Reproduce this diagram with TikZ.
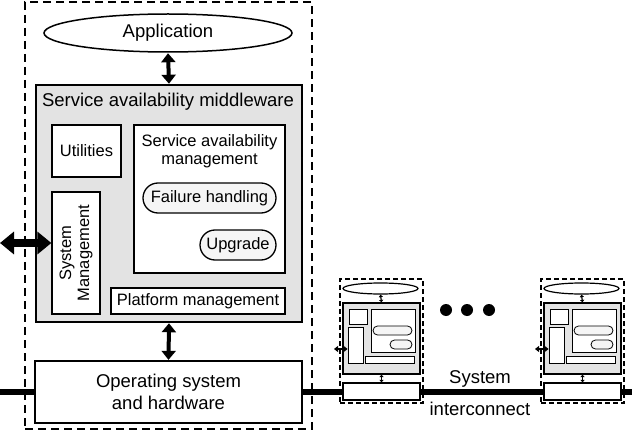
\documentclass[tikz,border=0pt]{standalone}
\usepackage{fontspec}
\setmainfont{Liberation Sans}
\usetikzlibrary{arrows.meta,shapes.geometric}
\tikzset{
  big/.style={font=\fontsize{18.5}{22}\selectfont},
  inner/.style={font=\fontsize{16.5}{18}\selectfont},
  box/.style={draw=black, line width=1.3pt, fill=white, inner sep=0pt},
  graybox/.style={draw=black, line width=1.5pt, fill=gray!22, inner sep=0pt},
  pill/.style={draw=black, line width=1.3pt, fill=gray!8, rounded corners=15pt, inner sep=0pt},
  dashbox/.style={draw=black, line width=1.8pt, dash pattern=on 8pt off 5pt, inner sep=0pt},
  ell/.style={ellipse, draw=black, line width=1.5pt, fill=white, inner sep=0pt},
  varrow/.style={line width=4pt, {Triangle[width=14pt,length=9pt]}-{Triangle[width=14pt,length=9pt]}, shorten <=0.5pt, shorten >=0.5pt},
  harrow/.style={line width=8pt, {Triangle[width=22pt,length=14pt]}-{Triangle[width=22pt,length=14pt]}},
  sarrow/.style={line width=1.2pt, {Triangle[width=4pt,length=2.5pt]}-{Triangle[width=4pt,length=2.5pt]}},
  slarrow/.style={line width=2pt, {Triangle[width=6pt,length=4pt]}-{Triangle[width=6pt,length=4pt]}},
  sbox/.style={draw=black, line width=0.8pt, fill=white, inner sep=0pt},
  spill/.style={draw=black, line width=0.8pt, fill=gray!8, rounded corners=4.5pt, inner sep=0pt},
  wire/.style={line width=6.5pt},
}
\begin{document}
\begin{tikzpicture}[x=1pt,y=-1pt]
\useasboundingbox (0,0) rectangle (632,433);
% interconnect
\coordinate (wl) at (0,392);
\coordinate (wr) at (632,392);
\draw[wire] (wl) -- (wr);
% main node
\node[dashbox, minimum width=287pt, minimum height=427pt] (outer) at (168.5,215.5) {};
\node[ell, minimum width=248pt, minimum height=38pt, big] (app) at (168,33) {Application};
\node[graybox, minimum width=266pt, minimum height=237pt] (mw) at (169,203.5) {};
\node[big] (mwt) at (168,102) {Service availability middleware};
\node[box, minimum width=69pt, minimum height=52pt, inner] (util) at (86.5,151) {Utilities};
\node[box, minimum width=151pt, minimum height=148pt] (sam) at (209.5,199) {};
\node[inner, align=center] (samt) at (209.5,151) {Service availability\\management};
\node[pill, minimum width=133pt, minimum height=30pt, inner] (fail) at (209.5,198) {Failure handling};
\node[pill, minimum width=76pt, minimum height=30pt, inner] (upg) at (238,245) {Upgrade};
\node[box, minimum width=48pt, minimum height=122pt] (sysm) at (76,253) {};
\node[inner, align=center, rotate=90] (sysmt) at (76,253) {System\\Management};
\node[box, minimum width=174pt, minimum height=26pt, inner] (plat) at (198,301) {Platform management};
\node[box, minimum width=267pt, minimum height=62pt, big, align=center] (os) at (168.5,392) {Operating system\\and hardware};
\draw[varrow] (app.south) -- (mw.north);
\draw[varrow] (mw.south) -- (os.north);
\coordinate (ext) at (0,243);
\draw[harrow] (ext) -- (sysm.west |- ext);
% small copies
\foreach \o in {0,201}{
  \begin{scope}[xshift=\o pt]
  \node[dashbox, line width=2pt, dash pattern=on 5pt off 3pt, minimum width=83pt, minimum height=124pt] (so\o) at (381.5,341) {};
  \node[ell, line width=1.2pt, minimum width=75pt, minimum height=11pt] (sa\o) at (380.5,288.5) {};
  \node[graybox, line width=1.2pt, minimum width=77pt, minimum height=71pt] (sm\o) at (381.5,338.5) {};
  \node[sbox, minimum width=18pt, minimum height=15pt] (su\o) at (358,316.5) {};
  \node[sbox, minimum width=44pt, minimum height=43pt] (ss\o) at (393,330.5) {};
  \node[spill, minimum width=39pt, minimum height=9pt] (sf\o) at (392.5,330.5) {};
  \node[spill, minimum width=22pt, minimum height=9pt] (sg\o) at (401,344.5) {};
  \node[sbox, minimum width=15pt, minimum height=36pt] (sy\o) at (355.5,345) {};
  \node[sbox, minimum width=49pt, minimum height=7pt] (sp\o) at (389.5,359.5) {};
  \node[sbox, line width=1.2pt, minimum width=77pt, minimum height=17pt] (sh\o) at (381.5,391.5) {};
  \draw[sarrow] (sa\o.south) -- (sm\o.north);
  \draw[sarrow] (sm\o.south) -- (sh\o.north);
  \coordinate (se\o) at (334,349);
  \draw[slarrow] (se\o) -- (sy\o.west |- se\o);
  \end{scope}
}
% dots
\fill (446,310) circle (6pt) (467,310) circle (6pt) (489,310) circle (6pt);
\node[big] (sys) at (480,379) {System};
\node[big] (ic) at (480,409) {interconnect};
\end{tikzpicture}
\end{document}
